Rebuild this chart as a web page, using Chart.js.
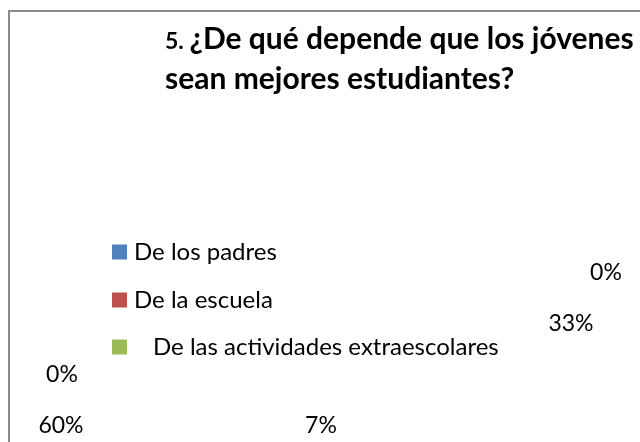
<!DOCTYPE html>
<html>
<head>
<meta charset="utf-8">
<script src="https://cdn.jsdelivr.net/npm/chart.js@4.4.1/dist/chart.umd.min.js"></script>
<style>
  html, body { margin: 0; padding: 0; background: #fff; }
  #wrap { position: relative; width: 640px; height: 442px; overflow: hidden; }
  #frame { position: absolute; left: 8px; top: 10px; width: 700px; height: 500px;
           border-left: 2px solid #898989; border-top: 2px solid #898989; }
  canvas { position: absolute; left: 0; top: 0; }
</style>
</head>
<body>
<div id="wrap">
  <div id="frame"></div>
  <canvas id="pieChart" width="640" height="442"></canvas>
</div>
<script>
const titleNumber = '5.';
const titleLines = ['¿De qué depende que los jóvenes', 'sean mejores estudiantes?'];

// categorias de la leyenda
const categories = ['De los padres', 'De la escuela', 'De las actividades extraescolares'];
const categoryColors = ['#4f81bd', '#c0504d', '#9bbb59'];

// porcentajes (en el orden del grafico)
const values = [0, 33, 7, 60, 0];
const valueLabels = ['0%', '33%', '7%', '60%', '0%'];

// donde quedaron las etiquetas en el original (centro x, y en pixeles del lienzo)
const labelSpots = [[606, 273], [571, 324], [321, 426], [61, 426], [62, 375]];

const FONT = 'Lato, "Liberation Sans", sans-serif';

const titlePlugin = {
    id: 'titlePlugin',
    afterDraw(chart) {
        const ctx = chart.ctx;
        ctx.save();
        ctx.fillStyle = '#000';
        ctx.textBaseline = 'alphabetic';
        ctx.font = `bold 23px ${FONT}`;
        ctx.fillText(titleNumber, 165, 49);
        const w = ctx.measureText(titleNumber + ' ').width;
        ctx.font = `bold 30px ${FONT}`;
        ctx.fillText(titleLines[0], 165 + w, 49);
        ctx.fillText(titleLines[1], 165, 89);
        ctx.restore();
    }
};

const legendPlugin = {
    id: 'legendPlugin',
    afterDraw(chart) {
        const ctx = chart.ctx;
        ctx.save();
        ctx.font = `24px ${FONT}`;
        ctx.textBaseline = 'middle';
        const rows = [252, 300, 347];
        const textX = [134, 134, 153];
        categories.forEach((name, i) => {
            ctx.fillStyle = categoryColors[i];
            ctx.fillRect(112, rows[i] - 7.5, 15, 15);
            ctx.fillStyle = '#000';
            ctx.fillText(name, textX[i], rows[i]);
        });
        ctx.restore();
    }
};

// etiquetas de datos: el pastel no se ve, solo sus porcentajes
const dataLabelPlugin = {
    id: 'dataLabelPlugin',
    afterDatasetsDraw(chart) {
        const ctx = chart.ctx;
        const meta = chart.getDatasetMeta(0);
        ctx.save();
        ctx.font = `23px ${FONT}`;
        ctx.fillStyle = '#000';
        ctx.textAlign = 'center';
        ctx.textBaseline = 'middle';
        meta.data.forEach((arc, i) => {
            const [x, y] = labelSpots[i];
            ctx.fillText(valueLabels[i], x, y);
        });
        ctx.restore();
    }
};

const ctx = document.getElementById('pieChart').getContext('2d');
const chart = new Chart(ctx, {
    type: 'pie',
    data: {
        labels: valueLabels,
        datasets: [{
            data: values,
            backgroundColor: 'rgba(0,0,0,0)',
            borderWidth: 0,
            radius: 0
        }]
    },
    options: {
        responsive: false,
        animation: false,
        devicePixelRatio: 1,
        plugins: {
            legend: { display: false },
            tooltip: { enabled: false },
            title: { display: false }
        }
    },
    plugins: [dataLabelPlugin, titlePlugin, legendPlugin]
});
</script>
</body>
</html>
